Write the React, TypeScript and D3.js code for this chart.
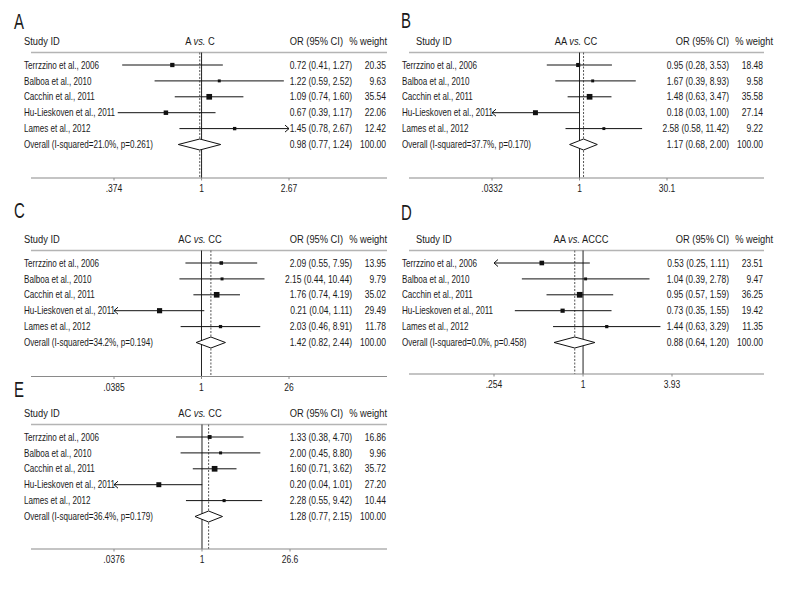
import React from 'react';
import * as d3 from 'd3';

const studies = [
  'Terrzzino et al., 2006',
  'Balboa et al., 2010',
  'Cacchin et al., 2011',
  'Hu-Lieskoven et al., 2011',
  'Lames et al., 2012',
];

// Panel A: A vs. C
const orA = [0.72, 1.22, 1.09, 0.67, 1.45];
const loA = [0.41, 0.59, 0.74, 0.39, 0.78];
const hiA = [1.27, 2.52, 1.6, 1.17, 2.67];
const wA = [20.35, 9.63, 35.54, 22.06, 12.42];
const overallA = [0.98, 0.77, 1.24];
const ticksA = [0.374, 1, 2.67];
const tickLabelsA = ['.374', '1', '2.67'];

// Panel B: AA vs. CC
const orB = [0.95, 1.67, 1.48, 0.18, 2.58];
const loB = [0.28, 0.39, 0.63, 0.0332, 0.58];
const hiB = [3.53, 8.93, 3.47, 1.0, 11.42];
const wB = [18.48, 9.58, 35.58, 27.14, 9.22];
const overallB = [1.17, 0.68, 2.0];
const ticksB = [0.0332, 1, 30.1];
const tickLabelsB = ['.0332', '1', '30.1'];

// Panel C: AC vs. CC
const orC = [2.09, 2.15, 1.76, 0.21, 2.03];
const loC = [0.55, 0.44, 0.74, 0.0385, 0.46];
const hiC = [7.95, 10.44, 4.19, 1.11, 8.91];
const wC = [13.95, 9.79, 35.02, 29.49, 11.78];
const overallC = [1.42, 0.82, 2.44];
const ticksC = [0.0385, 1, 26];
const tickLabelsC = ['.0385', '1', '26'];

// Panel D: AA vs. ACCC
const orD = [0.53, 1.04, 0.95, 0.73, 1.44];
const loD = [0.254, 0.39, 0.57, 0.35, 0.63];
const hiD = [1.11, 2.78, 1.59, 1.55, 3.29];
const wD = [23.51, 9.47, 36.25, 19.42, 11.35];
const overallD = [0.88, 0.64, 1.2];
const ticksD = [0.254, 1, 3.93];
const tickLabelsD = ['.254', '1', '3.93'];

// Panel E: AC vs. CC
const orE = [1.33, 2.0, 1.6, 0.2, 2.28];
const loE = [0.38, 0.45, 0.71, 0.0376, 0.55];
const hiE = [4.7, 8.8, 3.62, 1.01, 9.42];
const wE = [16.86, 9.96, 35.72, 27.2, 10.44];
const overallE = [1.28, 0.77, 2.15];
const ticksE = [0.0376, 1, 26.6];
const tickLabelsE = ['.0376', '1', '26.6'];

const panelLetters = ['A', 'B', 'C', 'D', 'E'];
const compLeft = ['A', 'AA', 'AC', 'AA', 'AC'];
const compRight = ['C', 'CC', 'CC', 'ACCC', 'CC'];
const i2Values = ['21.0%', '37.7%', '34.2%', '0.0%', '36.4%'];
const pValues = ['0.261', '0.170', '0.194', '0.458', '0.179'];

const panelData = [
  { or: orA, lo: loA, hi: hiA, w: wA, overall: overallA, ticks: ticksA, tickLabels: tickLabelsA },
  { or: orB, lo: loB, hi: hiB, w: wB, overall: overallB, ticks: ticksB, tickLabels: tickLabelsB },
  { or: orC, lo: loC, hi: hiC, w: wC, overall: overallC, ticks: ticksC, tickLabels: tickLabelsC },
  { or: orD, lo: loD, hi: hiD, w: wD, overall: overallD, ticks: ticksD, tickLabels: tickLabelsD },
  { or: orE, lo: loE, hi: hiE, w: wE, overall: overallE, ticks: ticksE, tickLabels: tickLabelsE },
];

// Layout (positions only)
const layouts = [
  { col: 0, letterY: 29, rowY0: 65, axisY: 178, range: [114, 289], titleCx: 200 },
  { col: 1, letterY: 28, rowY0: 65, axisY: 178, range: [492, 667], titleCx: 576 },
  { col: 0, letterY: 218, rowY0: 263, axisY: 376.5, range: [114, 289], titleCx: 200 },
  { col: 1, letterY: 220, rowY0: 263, axisY: 374, range: [494, 672], titleCx: 581 },
  { col: 0, letterY: 397, rowY0: 437, axisY: 549, range: [114, 290], titleCx: 200 },
];

const cols = [
  { letterX: 14, labelX: 24, studyIdX: 24, x0: 31, x1: 387, valRight: 352, wRight: 386, orHdrRight: 343, wHdrRight: 387 },
  { letterX: 401, labelX: 402, studyIdX: 416, x0: 409, x1: 764, valRight: 729, wRight: 763, orHdrRight: 729, wHdrRight: 773 },
];

const FONT = "'Liberation Sans', Arial, sans-serif";
const SX = 0.81;
const ROW_STEP = 15.9;
const TEXT = '#1a1a1a';

function T({ x, y, size, anchor, sx, children }: any) {
  return (
    <text
      transform={`translate(${x},${y}) scale(${sx ?? SX},1)`}
      fontSize={size}
      textAnchor={anchor || 'start'}
    >
      {children}
    </text>
  );
}

function fmtCI(o: number, l: number, h: number) {
  return `${o.toFixed(2)} (${l.toFixed(2)}, ${h.toFixed(2)})`;
}

function Panel({ idx }: { idx: number }) {
  const d = panelData[idx];
  const L = layouts[idx];
  const C = cols[L.col];
  const lowTick = d.ticks[0];
  const highTick = d.ticks[d.ticks.length - 1];
  const x = d3.scaleLog().domain([lowTick, highTick]).range(L.range as [number, number]);
  const y = (i: number) => L.rowY0 + i * ROW_STEP;
  const sepY = L.rowY0 - 12.5;
  const hdrY = L.rowY0 - 20;
  const overallRow = studies.length;
  const oy = y(overallRow);
  const [oOR, oLo, oHi] = d.overall;
  const diamond = d3.line()([
    [x(oLo), oy],
    [x(oOR), oy - 5.5],
    [x(oHi), oy],
    [x(oOR), oy + 5.5],
    [x(oLo), oy],
  ]);
  const rowFs = 10;
  const valFs = 10.5;
  const hdrFs = 11.5;

  return (
    <g fontFamily={FONT} fill={TEXT}>
      <T x={C.letterX} y={L.letterY} size={22} sx={0.68}>{panelLetters[idx]}</T>
      {/* header */}
      <T x={C.studyIdX} y={hdrY} size={hdrFs}>Study ID</T>
      <T x={L.titleCx} y={hdrY} size={hdrFs} anchor="middle">
        <tspan>{compLeft[idx]} </tspan>
        <tspan fontStyle="italic">vs.</tspan>
        <tspan> {compRight[idx]}</tspan>
      </T>
      <T x={C.orHdrRight} y={hdrY} size={hdrFs} anchor="end">OR (95% CI)</T>
      <T x={C.wHdrRight} y={hdrY} size={hdrFs} anchor="end">% weight</T>
      <line x1={C.x0} x2={C.x1} y1={sepY} y2={sepY} stroke="#b4b4b4" strokeWidth={1.4} />

      {/* reference lines */}
      <line x1={x(1)} x2={x(1)} y1={sepY} y2={L.axisY} stroke="#222" strokeWidth={1} />
      <line x1={x(oOR)} x2={x(oOR)} y1={sepY} y2={L.axisY} stroke="#555" strokeWidth={1} strokeDasharray="2,1.5" />

      {/* studies */}
      {studies.map((s, i) => {
        const yy = y(i);
        const leftClip = d.lo[i] <= lowTick;
        const rightClip = d.hi[i] >= highTick;
        const xl = x(Math.max(d.lo[i], lowTick));
        const xh = x(Math.min(d.hi[i], highTick));
        const side = Math.sqrt(d.w[i]) * 0.95;
        return (
          <g key={s}>
            <T x={C.labelX} y={yy + 3.6} size={rowFs}>{s}</T>
            <line x1={xl} x2={xh} y1={yy} y2={yy} stroke="#111" strokeWidth={1} />
            {leftClip && (
              <path d={`M${xl + 4},${yy - 3.5} L${xl},${yy} L${xl + 4},${yy + 3.5}`} fill="none" stroke="#111" strokeWidth={1} />
            )}
            {rightClip && (
              <path d={`M${xh - 4},${yy - 3.5} L${xh},${yy} L${xh - 4},${yy + 3.5}`} fill="none" stroke="#111" strokeWidth={1} />
            )}
            <rect x={x(d.or[i]) - side / 2} y={yy - side / 2} width={side} height={side} fill="#111" />
            <T x={C.valRight} y={yy + 3.6} size={valFs} anchor="end">{fmtCI(d.or[i], d.lo[i], d.hi[i])}</T>
            <T x={C.wRight} y={yy + 3.6} size={valFs} anchor="end">{d.w[i].toFixed(2)}</T>
          </g>
        );
      })}

      {/* overall */}
      <T x={C.labelX} y={oy + 3.6} size={rowFs}>{`Overall (I-squared=${i2Values[idx]}, p=${pValues[idx]})`}</T>
      <path d={diamond || ''} fill="#fff" stroke="#111" strokeWidth={1} />
      <T x={C.valRight} y={oy + 3.6} size={valFs} anchor="end">{fmtCI(oOR, oLo, oHi)}</T>
      <T x={C.wRight} y={oy + 3.6} size={valFs} anchor="end">{(100).toFixed(2)}</T>

      {/* axis */}
      <line x1={C.x0} x2={C.x1} y1={L.axisY} y2={L.axisY} stroke="#8a8a8a" strokeWidth={1.2} />
      {d.ticks.map((t, k) => (
        <g key={k}>
          <line x1={x(t)} x2={x(t)} y1={L.axisY} y2={L.axisY + 2.5} stroke="#8a8a8a" strokeWidth={1} />
          <T x={x(t)} y={L.axisY + 14} size={10.5} anchor="middle">{d.tickLabels[k]}</T>
        </g>
      ))}
    </g>
  );
}

export default function App() {
  return (
    <svg width={792} height={600} style={{ position: 'absolute', left: 0, top: 0, background: '#fff' }}>
      <rect width={792} height={600} fill="#fff" />
      {panelLetters.map((_, i) => (
        <Panel key={i} idx={i} />
      ))}
    </svg>
  );
}
